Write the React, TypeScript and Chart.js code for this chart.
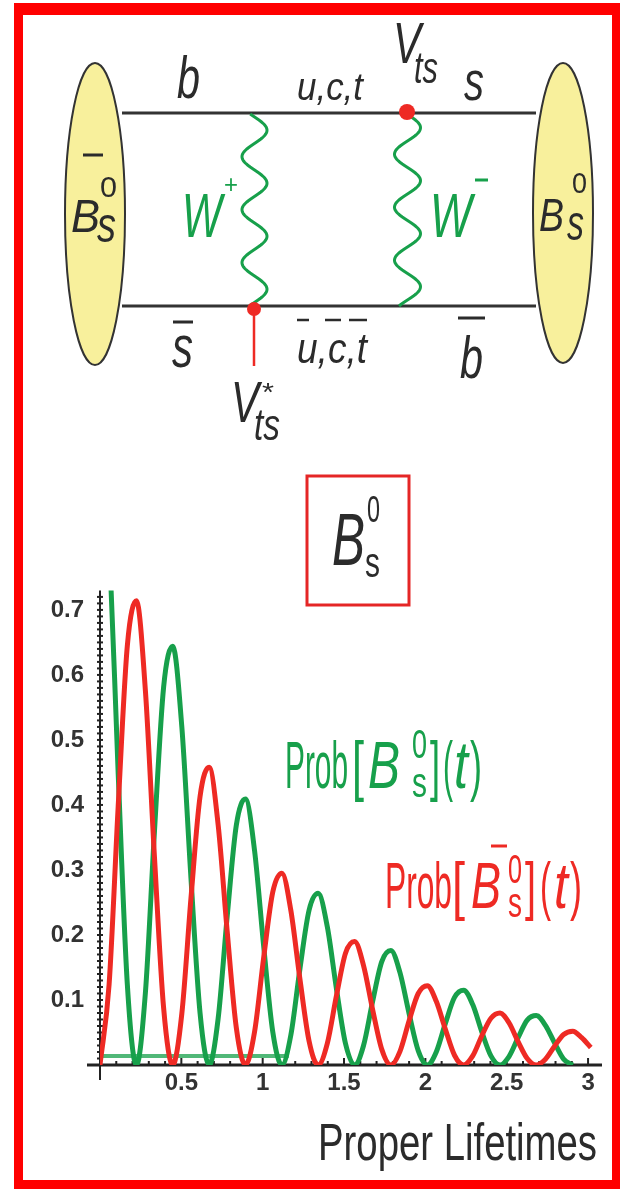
import React, { useEffect, useRef } from 'react';
import { Chart, registerables } from 'chart.js';

Chart.register(...registerables);

// ---- data ----
const tValues = [
  0, 0.056, 0.112, 0.168, 0.224, 0.279, 0.335, 0.391, 0.447, 0.503,
  0.559, 0.615, 0.671, 0.726, 0.782, 0.838, 0.894, 0.95, 1.006, 1.062,
  1.118, 1.173, 1.229, 1.285, 1.341, 1.397, 1.453, 1.509, 1.565, 1.62,
  1.676, 1.732, 1.788, 1.844, 1.9, 1.956, 2.012, 2.067, 2.123, 2.179,
  2.235, 2.291, 2.347, 2.403, 2.459, 2.514, 2.57, 2.626, 2.682, 2.738,
  2.794, 2.85, 2.906, 2.961, 3.017,
];
// Prob[anti-Bs0](t) – red
const redValues = [
  0, 0.124, 0.399, 0.645, 0.714, 0.576, 0.319, 0.088, 0, 0.079,
  0.256, 0.413, 0.458, 0.37, 0.205, 0.057, 0, 0.051, 0.165, 0.266,
  0.295, 0.238, 0.132, 0.037, 0, 0.033, 0.106, 0.172, 0.19, 0.153,
  0.085, 0.024, 0, 0.021, 0.068, 0.11, 0.122, 0.098, 0.055, 0.015,
  0, 0.014, 0.045, 0.072, 0.08, 0.065, 0.036, 0.01, 0, 0.009,
  0.029, 0.047, 0.052, 0.042, 0.027,
];
// Prob[Bs0](t) – green
const greenValues = [
  1.0, 0.807, 0.447, 0.124, 0, 0.111, 0.36, 0.581, 0.644, 0.52,
  0.288, 0.08, 0, 0.071, 0.229, 0.369, 0.409, 0.33, 0.183, 0.051,
  0, 0.046, 0.148, 0.238, 0.264, 0.213, 0.118, 0.033, 0, 0.03,
  0.098, 0.159, 0.176, 0.142, 0.079, 0.022, 0, 0.02, 0.064, 0.104,
  0.115, 0.093, 0.051, 0.014, 0, 0.013, 0.042, 0.069, 0.076, 0.061,
  0.034, 0.009, 0,
];
// faint green flat trace along the bottom
const baselineT = [0, 1.16];
const baselineValues = [0.014, 0.014];

const xTickValues = [0.5, 1, 1.5, 2, 2.5, 3];
const yTickValues = [0.1, 0.2, 0.3, 0.4, 0.5, 0.6, 0.7];
const xAxisTitle = 'Proper Lifetimes';

// ---- styles ----
const FONT = '"Liberation Sans", Arial, Helvetica, sans-serif';
const INK = '#2b2b2b';
const GREEN = '#17a04b';
const RED = '#ee2a24';
const CANVAS_TOP = 560;

function fitText(
  ctx: CanvasRenderingContext2D,
  text: string,
  x: number,
  baseline: number,
  size: number,
  width: number,
  color: string,
  italic = false
) {
  ctx.save();
  ctx.font = `${italic ? 'italic ' : ''}${size}px ${FONT}`;
  ctx.fillStyle = color;
  ctx.textAlign = 'left';
  ctx.textBaseline = 'alphabetic';
  const w = ctx.measureText(text).width || 1;
  ctx.translate(x, baseline - CANVAS_TOP);
  ctx.scale(width / w, 1);
  ctx.fillText(text, 0, 0);
  ctx.restore();
}

function bar(ctx: CanvasRenderingContext2D, x1: number, x2: number, y: number, color: string) {
  ctx.save();
  ctx.strokeStyle = color;
  ctx.lineWidth = 3;
  ctx.beginPath();
  ctx.moveTo(x1, y - CANVAS_TOP);
  ctx.lineTo(x2, y - CANVAS_TOP);
  ctx.stroke();
  ctx.restore();
}

const axesPlugin = {
  id: 'axesDecor',
  beforeDatasetsDraw(chart: any) {
    const { ctx, scales } = chart;
    const xs = scales.x;
    const ys = scales.y;
    const x0 = xs.getPixelForValue(0);
    const y0 = ys.getPixelForValue(0);
    const yTop = ys.getPixelForValue(ys.max);
    ctx.save();
    ctx.strokeStyle = '#222';
    ctx.lineWidth = 3;
    ctx.beginPath();
    ctx.moveTo(x0 - 13, y0);
    ctx.lineTo(xs.right + 5, y0);
    ctx.stroke();
    ctx.lineWidth = 2;
    ctx.beginPath();
    ctx.moveTo(x0, yTop);
    ctx.lineTo(x0, y0 + 15);
    ctx.stroke();
    // y minor ticks (dotted look)
    ctx.lineWidth = 2;
    for (let i = 1; i <= 72; i++) {
      const py = ys.getPixelForValue(i / 100);
      ctx.beginPath();
      ctx.moveTo(x0 - 3, py);
      ctx.lineTo(x0 + 3, py);
      ctx.stroke();
    }
    // x minor ticks
    for (let i = 1; i <= 30; i++) {
      const px = xs.getPixelForValue(i / 10);
      const len = i % 5 === 0 ? 7 : 4;
      ctx.beginPath();
      ctx.moveTo(px, y0);
      ctx.lineTo(px, y0 - len);
      ctx.stroke();
    }
    ctx.restore();
  },
  afterDatasetsDraw(chart: any) {
    const { ctx, scales } = chart;
    const xs = scales.x;
    // axis title, right-aligned to the plot
    fitText(ctx, xAxisTitle, xs.right - 279, 1160, 52, 279, INK);

    // green label: Prob[Bs0](t)
    fitText(ctx, 'Prob', 285, 788, 66, 63, GREEN);
    fitText(ctx, '[', 352, 788, 66, 12, GREEN);
    fitText(ctx, 'B', 368, 788, 66, 32, GREEN, true);
    fitText(ctx, '0', 412, 758, 40, 15, GREEN);
    fitText(ctx, 's', 412, 797, 42, 15, GREEN);
    fitText(ctx, ']', 430, 788, 66, 10, GREEN);
    fitText(ctx, '(', 443, 788, 66, 10, GREEN);
    fitText(ctx, 't', 454, 788, 66, 14, GREEN, true);
    fitText(ctx, ')', 470, 788, 66, 12, GREEN);

    // red label: Prob[anti-Bs0](t)
    fitText(ctx, 'Prob', 385, 908, 64, 67, RED);
    fitText(ctx, '[', 452, 908, 64, 13, RED);
    fitText(ctx, 'B', 471, 908, 64, 30, RED, true);
    bar(ctx, 491, 507, 846, RED);
    fitText(ctx, '0', 508, 883, 40, 14, RED);
    fitText(ctx, 's', 508, 917, 42, 14, RED);
    fitText(ctx, ']', 525, 908, 64, 11, RED);
    fitText(ctx, '(', 540, 908, 64, 11, RED);
    fitText(ctx, 't', 554, 908, 64, 14, RED, true);
    fitText(ctx, ')', 570, 908, 64, 12, RED);
  },
};

function ChartPanel() {
  const ref = useRef<HTMLCanvasElement | null>(null);
  useEffect(() => {
    if (!ref.current) return;
    const toPts = (xs: number[], ys: number[]) => ys.map((v, i) => ({ x: xs[i], y: v }));
    const chart = new Chart(ref.current, {
      type: 'line',
      data: {
        datasets: [
          {
            label: 'Prob[B̄s0](t)',
            data: toPts(tValues, redValues),
            borderColor: RED,
            borderWidth: 5,
            pointRadius: 0,
            fill: false,
            cubicInterpolationMode: 'monotone',
          },
          {
            label: 'Prob[Bs0](t)',
            data: toPts(tValues, greenValues),
            borderColor: GREEN,
            borderWidth: 5,
            pointRadius: 0,
            fill: false,
            cubicInterpolationMode: 'monotone',
          },
          {
            label: 'trace',
            data: toPts(baselineT, baselineValues),
            borderColor: 'rgba(23,160,75,0.75)',
            borderWidth: 4,
            pointRadius: 0,
            fill: false,
          },
        ],
      },
      options: {
        animation: false,
        responsive: false,
        layout: { padding: { top: 27, right: 24, left: 0, bottom: 0 } },
        plugins: { legend: { display: false }, tooltip: { enabled: false } },
        scales: {
          x: {
            type: 'linear',
            min: 0,
            max: 3.055,
            afterFit: (s: any) => {
              s.height = 115;
            },
            afterBuildTicks: (s: any) => {
              s.ticks = [0, ...xTickValues].map((v) => ({ value: v }));
            },
            grid: { display: false, drawTicks: false },
            border: { display: false },
            ticks: {
              padding: 4,
              color: '#333',
              font: { family: FONT, size: 24, weight: 'bold' },
              maxRotation: 0,
              autoSkip: false,
              callback: (v: any) => (v === 0 ? '' : String(v)),
            },
          },
          y: {
            type: 'linear',
            min: 0,
            max: 0.73,
            afterFit: (s: any) => {
              s.width = 100;
            },
            afterBuildTicks: (s: any) => {
              s.ticks = [0, ...yTickValues].map((v) => ({ value: v }));
            },
            grid: { display: false, drawTicks: false },
            border: { display: false },
            ticks: {
              padding: 16,
              color: '#333',
              font: { family: FONT, size: 24, weight: 'bold' },
              autoSkip: false,
              callback: (v: any) => (v === 0 ? '' : Number(v).toFixed(1)),
            },
          },
        },
      } as any,
      plugins: [axesPlugin],
    });
    return () => chart.destroy();
  }, []);
  return (
    <canvas
      ref={ref}
      width={621}
      height={620}
      style={{ position: 'absolute', left: 0, top: CANVAS_TOP, width: 621, height: 620 }}
    />
  );
}

function T(props: {
  x: number;
  y: number;
  size: number;
  len: number;
  italic?: boolean;
  color?: string;
  children: React.ReactNode;
}) {
  const { x, y, size, len, italic, color, children } = props;
  return (
    <text
      x={x}
      y={y}
      fontSize={size}
      fontFamily={FONT}
      fontStyle={italic ? 'italic' : 'normal'}
      fill={color || INK}
      textLength={len}
      lengthAdjust="spacingAndGlyphs"
    >
      {children}
    </text>
  );
}

function wave(cx: number, y0: number, y1: number, amp: number, period: number, phase: number) {
  let d = '';
  for (let y = y0; y <= y1 + 0.01; y += 1) {
    const x = cx + amp * Math.sin((2 * Math.PI * (y - y0)) / period + phase);
    d += (d ? ' L' : 'M') + x.toFixed(2) + ',' + y.toFixed(2);
  }
  return d;
}

function Diagram() {
  const yellow = '#f8f09c';
  return (
    <svg
      width={621}
      height={620}
      style={{ position: 'absolute', left: 0, top: 0, pointerEvents: 'none' }}
    >
      {/* quark lines */}
      <line x1={122} y1={113} x2={536} y2={113} stroke="#333" strokeWidth={3} />
      <line x1={122} y1={306} x2={536} y2={306} stroke="#333" strokeWidth={3} />
      {/* mesons */}
      <ellipse cx={95} cy={214} rx={30} ry={151} fill={yellow} stroke="#333" strokeWidth={2} />
      <ellipse cx={563} cy={213} rx={30} ry={150} fill={yellow} stroke="#333" strokeWidth={2} />
      {/* W bosons */}
      <path d={wave(254.5, 114, 306, 12.5, 53, -0.35)} fill="none" stroke={GREEN} strokeWidth={3} />
      <path d={wave(407.5, 117, 306, 13, 53, 0.3)} fill="none" stroke={GREEN} strokeWidth={3} />
      {/* vertices */}
      <line x1={254} y1={309} x2={254} y2={366} stroke={RED} strokeWidth={2.5} />
      <circle cx={254} cy={309} r={7} fill={RED} />
      <circle cx={407} cy={112} r={8} fill={RED} />

      {/* top labels */}
      <T x={177} y={98} size={60} len={23} italic>b</T>
      <T x={297} y={100} size={38} len={66} italic>u,c,t</T>
      <T x={393} y={63} size={58} len={28} italic>V</T>
      <T x={414} y={83} size={44} len={24} italic>ts</T>
      <T x={464} y={100} size={56} len={20} italic>s</T>

      {/* left meson label */}
      <line x1={83} y1={155} x2={103} y2={155} stroke={INK} strokeWidth={3} />
      <T x={71} y={232} size={47} len={29} italic>B</T>
      <T x={100} y={197} size={30} len={17}>0</T>
      <T x={97} y={242} size={50} len={19} italic>s</T>

      {/* W labels */}
      <T x={182} y={237} size={63} len={40} italic color={GREEN}>W</T>
      <T x={224} y={193} size={26} len={14} color={GREEN}>+</T>
      <T x={430} y={237} size={63} len={42} italic color={GREEN}>W</T>
      <line x1={475} y1={180} x2={488} y2={180} stroke={GREEN} strokeWidth={3} />

      {/* right meson label */}
      <T x={539} y={231} size={46} len={25} italic>B</T>
      <T x={572} y={193} size={30} len={15}>0</T>
      <T x={567} y={240} size={50} len={17} italic>s</T>

      {/* bottom labels */}
      <line x1={173} y1={322} x2={193} y2={322} stroke={INK} strokeWidth={3} />
      <T x={172} y={367} size={60} len={21} italic>s</T>
      <line x1={297} y1={320} x2={309} y2={320} stroke={INK} strokeWidth={2.5} />
      <line x1={325} y1={320} x2={341} y2={320} stroke={INK} strokeWidth={2.5} />
      <line x1={349} y1={320} x2={367} y2={320} stroke={INK} strokeWidth={2.5} />
      <T x={297} y={363} size={42} len={70} italic>u,c,t</T>
      <line x1={458} y1={318} x2={485} y2={318} stroke={INK} strokeWidth={3} />
      <T x={460} y={378} size={60} len={23} italic>b</T>
      <T x={231} y={422} size={58} len={28} italic>V</T>
      <T x={262} y={401} size={26} len={12}>*</T>
      <T x={254} y={440} size={44} len={26} italic>ts</T>

      {/* title box */}
      <rect x={307} y={476} width={102} height={129} fill="none" stroke="#e52626" strokeWidth={3} />
      <T x={332} y={565} size={74} len={33} italic>B</T>
      <T x={367} y={522} size={37} len={13}>0</T>
      <T x={365} y={577} size={42} len={15}>s</T>
    </svg>
  );
}

export default function App() {
  return (
    <div
      style={{
        position: 'absolute',
        left: 0,
        top: 0,
        width: 621,
        height: 1189,
        background: '#ffffff',
        overflow: 'hidden',
      }}
    >
      <ChartPanel />
      <Diagram />
      <div
        style={{
          position: 'absolute',
          left: 14,
          top: 3,
          width: 606,
          height: 1186,
          boxSizing: 'border-box',
          borderStyle: 'solid',
          borderColor: '#ff0000',
          borderWidth: '12px 8px 9px 9px',
          pointerEvents: 'none',
        }}
      />
    </div>
  );
}
